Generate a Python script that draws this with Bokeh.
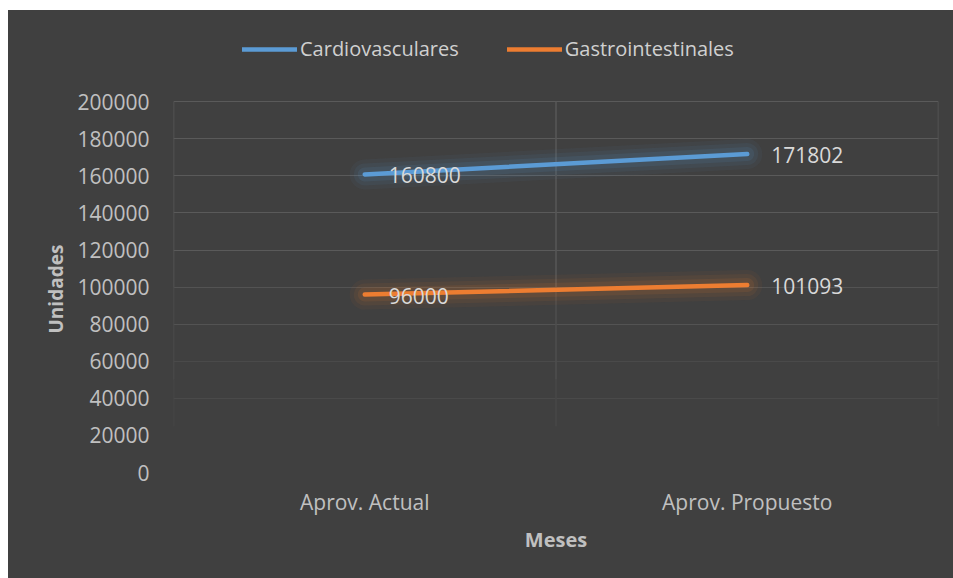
from bokeh.plotting import figure
from bokeh.models import (ColumnDataSource, FactorRange, Range1d, Legend, LegendItem,
                          FixedTicker, Grid, NumeralTickFormatter, Title)
from bokeh.core.properties import value
from bokeh.embed import file_html
from bokeh.resources import INLINE

categories = ["Aprov. Actual", "Aprov. Propuesto"]
cardio = [160800, 171802]
gastro = [96000, 101093]
series_names = ["Cardiovasculares", "Gastrointestinales"]
y_ticks = [0, 20000, 40000, 60000, 80000, 100000, 120000, 140000, 160000, 180000, 200000]

BG = "#404040"
FONT = "Open Sans"
BLUE = "#5B9BD5"
ORANGE = "#ED7D31"

# the frame reaches above the 200000 line so that the legend can sit inside it
p = figure(width=945, height=568, output_backend="svg", toolbar_location=None,
           x_range=FactorRange(factors=categories, range_padding=0),
           y_range=Range1d(0, 246000),
           min_border_left=165, min_border_right=15, min_border_top=6, min_border_bottom=106)
p.margin = (10, 0, 0, 8)
p.styles = {"background-color": BG}
p.background_fill_color = None
p.border_fill_color = None
p.outline_line_color = None

# grids (fading towards bottom)
p.xgrid.visible = False
p.ygrid.visible = False
for ticks, col in [([120000, 140000, 160000, 180000, 200000], "#5a5a5a"),
                   ([80000, 100000], "#535353"),
                   ([40000, 60000], "#4a4a4a")]:
    g = Grid(dimension=1, ticker=FixedTicker(ticks=ticks), grid_line_color=col, grid_line_width=1.2)
    p.add_layout(g)
for x in [0, 1, 2]:
    p.segment(x0=[x], y0=[100000], x1=[x], y1=[200000], line_color="#575757", line_width=1.5)
    p.segment(x0=[x], y0=[50000], x1=[x], y1=[100000], line_color="#4e4e4e", line_width=1.5)
    p.segment(x0=[x], y0=[25000], x1=[x], y1=[50000], line_color="#474747", line_width=1.5)

src = ColumnDataSource(dict(x=categories, cardio=cardio, gastro=gastro,
                            cl=[str(v) for v in cardio], gl=[str(v) for v in gastro]))

renderers = []
for col, color in [("cardio", BLUE), ("gastro", ORANGE)]:
    for w, a in [(30, 0.05), (22, 0.07), (14, 0.1)]:
        p.line(x="x", y=col, source=src, line_color=color, line_width=w, line_alpha=a,
               line_cap="round", line_join="round")
    r = p.line(x="x", y=col, source=src, line_color=color, line_width=4.5, line_cap="round")
    renderers.append(r)

for col in ["cl", "gl"]:
    ycol = "cardio" if col == "cl" else "gastro"
    p.text(x="x", y=ycol, text=col, source=src, x_offset=24, y_offset=1,
           text_align="left", text_baseline="middle", text_color="#d9d9d9",
           text_font=value(FONT), text_font_size="21px")

legend = Legend(items=[LegendItem(label=series_names[0], renderers=[renderers[0]]),
                       LegendItem(label=series_names[1], renderers=[renderers[1]])],
                location=(69, 410), orientation="horizontal")
legend.background_fill_alpha = 0
legend.border_line_color = None
legend.label_text_color = "#d0d0d0"
legend.label_text_font = FONT
legend.label_text_font_size = "20px"
legend.glyph_width = 55
legend.label_standoff = 3
legend.spacing = 48
legend.padding = 0
legend.margin = 0
p.add_layout(legend, "center")

p.yaxis.ticker = FixedTicker(ticks=y_ticks)
p.yaxis.formatter = NumeralTickFormatter(format="0")
for ax in [p.xaxis[0], p.yaxis[0]]:
    ax.axis_line_color = None
    ax.major_tick_line_color = None
    ax.minor_tick_line_color = None
    ax.major_label_text_color = "#c0c0c0"
    ax.major_label_text_font = FONT
    ax.major_label_text_font_size = "21px"
    ax.axis_label_text_color = "#c0c0c0"
    ax.axis_label_text_font = FONT
    ax.axis_label_text_font_style = "bold"
    ax.axis_label_text_font_size = "20px"

p.yaxis.major_label_standoff = 18
p.xaxis.axis_label = "Meses"
p.xaxis.major_label_standoff = 9
p.xaxis.axis_label_standoff = 7

ytitle = Title(text="Unidades", align="left", offset=139, standoff=12,
               text_color="#c0c0c0", text_font=FONT, text_font_style="bold",
               text_font_size="19px")
p.add_layout(ytitle, "left")

open("out.html", "w").write(file_html(p, INLINE))
